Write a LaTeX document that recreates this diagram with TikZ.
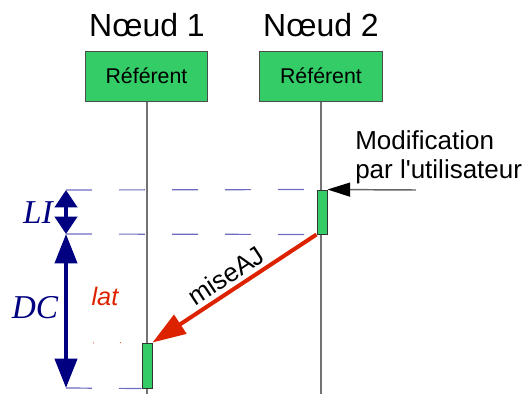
\documentclass[tikz,border=0pt]{standalone}
\usepackage{fontspec}
\setmainfont{Liberation Sans}
\newfontfamily\timesfont{Liberation Serif}
\usetikzlibrary{positioning,arrows.meta}
\definecolor{grn}{HTML}{33CC66}
\definecolor{navy}{HTML}{000080}
\definecolor{guidecol}{HTML}{6C6CC0}
\definecolor{msg}{HTML}{DD2200}
\tikzset{
  box/.style={rectangle,draw=black!70,line width=0.75pt,fill=grn,
    minimum width=92pt,minimum height=37.5pt,font=\fontsize{16}{19}\selectfont},
  bar/.style={rectangle,draw=black!80,line width=0.75pt,fill=grn,
    minimum width=7.5pt,inner sep=0pt},
  title/.style={font=\fontsize{24}{28}\selectfont,anchor=base,inner sep=0pt},
  life/.style={draw=black!55,line width=1.1pt},
  guide/.style={draw=guidecol,line width=0.9pt,dash pattern=on 19.5pt off 20.25pt},
  dur/.style={draw=navy,line width=3pt},
  fl/.style={-{Triangle[length=25pt,width=16.5pt]},draw=msg,line width=3pt},
  user/.style={-{Triangle[length=17pt,width=10.5pt,color=black]},draw=black!60,line width=1.1pt},
}
\begin{document}
\begin{tikzpicture}[x=0.75pt,y=-0.75pt]
  \useasboundingbox (0,0) rectangle (526,394);
  % noeuds et lignes de vie
  \node[title] (n1) at (147,36) {Nœud 1};
  \node[title] (n2) at (321,36) {Nœud 2};
  \node[box] (r1) at (146.5,76) {Référent};
  \node[box] (r2) at (321,76) {Référent};
  \coordinate (e1) at (147,394);
  \coordinate (e2) at (321,394);
  \draw[life] (r1.south -| e1) -- (e1);
  \draw[life] (r2.south) -- (e2);
  \node[bar,minimum height=33pt] (b2) at (322,212) {};
  \node[bar,minimum height=33.75pt] (b1) at (147,365.5) {};
  % repères
  \coordinate (t1) at (66,190);
  \coordinate (t2) at (66,234);
  \coordinate (t3) at (66,343);
  \coordinate (t4) at (66,388);
  \draw[guide] (t1) -- (b2.north west);
  \draw[guide] (t2) -- (b2.south west);
  \draw[guide] (t4) -- (b1.south west);
  \draw[msg!70,line width=0.75pt,dash pattern=on 0.75pt off 19.5pt] (t3) -- (b1.north west);
  \draw[dur,{Triangle[length=13pt,width=16.5pt]}-{Triangle[length=13pt,width=16.5pt]}] (t1) -- (t2);
  \draw[dur,{Triangle[length=22pt,width=16.5pt]}-{Triangle[length=22pt,width=16.5pt]}] (t2) -- (t4);
  \node[navy,font=\timesfont\itshape\fontsize{25}{30}\selectfont] (li) at (38,213) {LI};
  \node[navy,font=\timesfont\itshape\fontsize{25}{30}\selectfont] (dc) at (35,308) {DC};
  \node[msg,font=\itshape\fontsize{19}{23}\selectfont] (lat) at (105,296) {lat};
  % messages
  \draw[fl] (b2.south west) -- node[sloped,above,font=\fontsize{19.5}{23}\selectfont,inner sep=3pt] (maj) {miseAJ} (b1.north east);
  \coordinate (u) at (416,190);
  \draw[user] (u) -- (b2.north east);
  \node[align=left,anchor=north west,inner sep=0pt,font=\fontsize{19.5}{21.75}\selectfont] (mod) at (355,130)
    {Modification\\par l\textquotesingle utilisateur};
\end{tikzpicture}
\end{document}
